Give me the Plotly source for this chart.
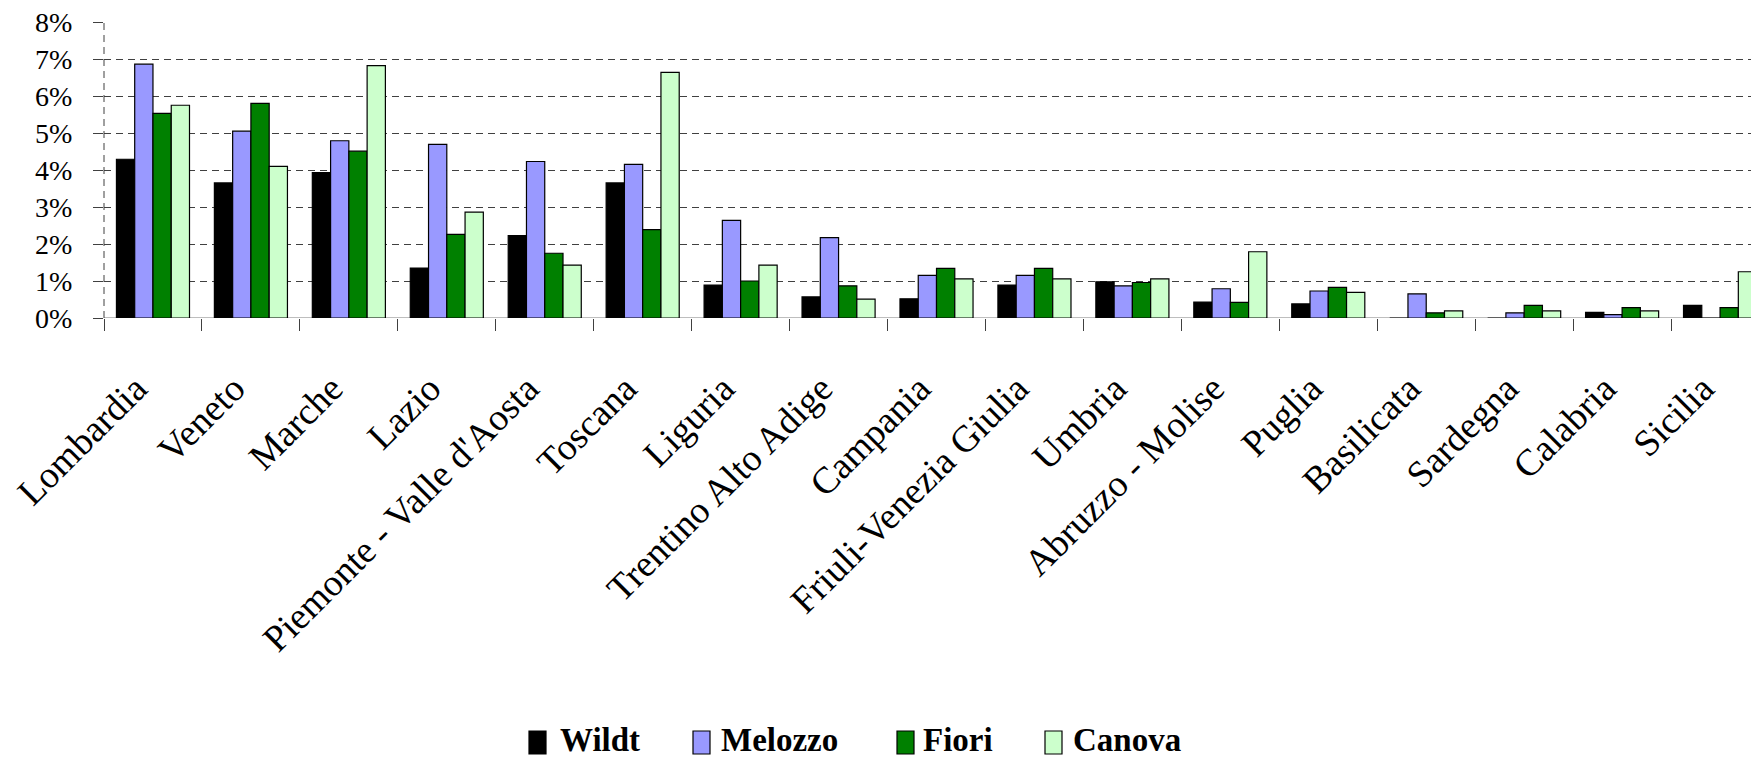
import plotly.graph_objects as go

regions = ["Lombardia", "Veneto", "Marche", "Lazio", "Piemonte - Valle d'Aosta",
           "Toscana", "Liguria", "Trentino Alto Adige", "Campania",
           "Friuli-Venezia Giulia", "Umbria", "Abruzzo - Molise", "Puglia",
           "Basilicata", "Sardegna", "Calabria", "Sicilia"]

wildt   = [4.29, 3.65, 3.93, 1.35, 2.23, 3.65, 0.89, 0.57, 0.52, 0.89, 0.98, 0.43, 0.38, 0.00, 0.00, 0.15, 0.34]
melozzo = [6.86, 5.05, 4.79, 4.69, 4.23, 4.15, 2.64, 2.17, 1.15, 1.15, 0.87, 0.79, 0.73, 0.65, 0.14, 0.09, 0.00]
fiori   = [5.53, 5.80, 4.51, 2.26, 1.75, 2.39, 1.00, 0.87, 1.34, 1.34, 0.96, 0.42, 0.83, 0.14, 0.34, 0.28, 0.28]
canova  = [5.75, 4.10, 6.82, 2.86, 1.43, 6.64, 1.43, 0.51, 1.06, 1.06, 1.06, 1.79, 0.69, 0.19, 0.19, 0.19, 1.25]

series_names = ["Wildt", "Melozzo", "Fiori", "Canova"]
series_vals = [wildt, melozzo, fiori, canova]
series_colors = ["#000000", "#9999FF", "#008000", "#CCFFCC"]
y_ticks = [0, 1, 2, 3, 4, 5, 6, 7, 8]
y_labels = ["0%", "1%", "2%", "3%", "4%", "5%", "6%", "7%", "8%"]

W, H = 1751, 757
ML, MR, MT, MB = 104, 0, 22, 439
PW, PH = W - ML - MR, H - MT - MB
SERIF = "Liberation Serif"
GRID = "#404040"


def px_x(px):
    return (px - ML) / PW


def px_y(py):
    return (H - MB - py) / PH


fig = go.Figure()
for name, vals, col in zip(series_names, series_vals, series_colors):
    fig.add_trace(go.Bar(
        x=regions, y=vals, name=name, showlegend=False,
        marker=dict(color=col, line=dict(color="#000000", width=1.2)),
    ))

# dashed y axis line and solid light x axis base
shapes = [
    dict(type="line", xref="paper", yref="y", x0=0, x1=0, y0=0, y1=8,
         line=dict(color=GRID, width=1, dash="7px,5px"), layer="above"),
    dict(type="line", xref="paper", yref="y", x0=0, x1=1, y0=0, y1=0,
         line=dict(color="#a8a8a8", width=1.5), layer="below"),
]

# manual legend
leg_sq = [(529, 546), (693, 710), (897, 914), (1045, 1062)]
leg_tx = [559, 720, 922, 1072]
annotations = []
for (x0, x1), tx, name, col in zip(leg_sq, leg_tx, series_names, series_colors):
    shapes.append(dict(type="rect", xref="paper", yref="paper",
                       x0=px_x(x0), x1=px_x(x1), y0=px_y(754), y1=px_y(731),
                       fillcolor=col, line=dict(color="#000000", width=1.2)))
    annotations.append(dict(xref="paper", yref="paper", x=px_x(tx), y=px_y(740),
                            xanchor="left", yanchor="middle", showarrow=False,
                            borderpad=0,
                            text=name, font=dict(family=SERIF, size=33, color="#000000", weight="bold")))

fig.update_layout(
    width=W, height=H,
    margin=dict(l=ML, r=MR, t=MT, b=MB, autoexpand=False),
    paper_bgcolor="white", plot_bgcolor="white",
    barmode="group", bargap=0.254, bargroupgap=0,
    shapes=shapes, annotations=annotations,
    showlegend=False,
    font=dict(family=SERIF, color="#000000"),
)
fig.update_xaxes(
    type="category", range=[-0.5, 16.316], showgrid=False, zeroline=False,
    showline=False, ticks="outside", tickson="boundaries", ticklen=12,
    tickcolor=GRID, tickwidth=1, tickangle=-45,
    tickfont=dict(family=SERIF, size=37.5, color="#000000"),
    ticklabelstandoff=40, ticklabelshift=-17,
)
fig.update_yaxes(
    range=[0, 8], tickmode="array", tickvals=y_ticks, ticktext=y_labels,
    showgrid=True, gridcolor=GRID, gridwidth=1, griddash="7px,5px",
    zeroline=False, showline=False, ticks="outside", ticklen=10,
    tickcolor=GRID, tickwidth=1,
    tickfont=dict(family=SERIF, size=28, color="#000000"),
    ticklabelstandoff=15,
)

fig.write_html("out.html", config={"displayModeBar": False},
               post_script="document.body.style.margin='0';")
